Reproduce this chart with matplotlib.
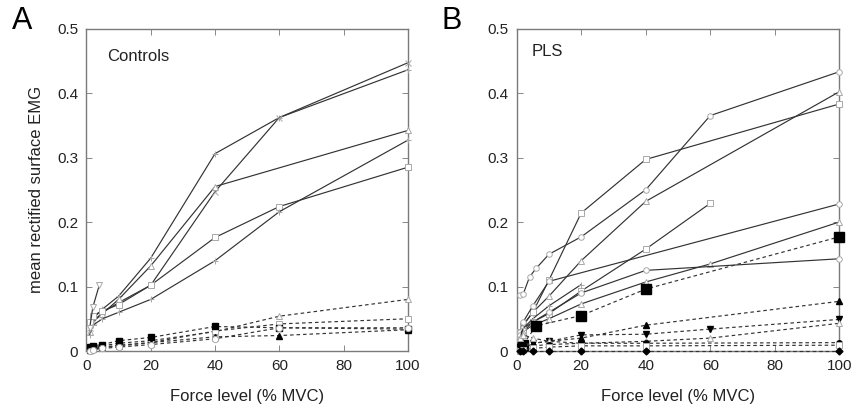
import matplotlib
matplotlib.use("Agg")
import matplotlib.pyplot as plt

plt.rcParams['font.family'] = ['Liberation Sans', 'DejaVu Sans']

# ---- Panel A: controls (solid = one muscle, dashed = the other) ----
ctrl_x = [1, 2, 5, 10, 20, 40, 60, 100]
ctrl_x_no60 = [1, 2, 5, 10, 20, 40, 100]
ctrl_x_short = [1, 2, 4]

ctrl_solid_1 = [0.040, 0.050, 0.065, 0.085, 0.144, 0.306, 0.362, 0.436]
ctrl_solid_2 = [0.035, 0.045, 0.060, 0.075, 0.102, 0.247, 0.362, 0.447]
ctrl_solid_3 = [0.030, 0.045, 0.058, 0.080, 0.132, 0.255, 0.342]
ctrl_solid_4 = [0.045, 0.055, 0.062, 0.072, 0.102, 0.176, 0.224, 0.285]
ctrl_solid_5 = [0.025, 0.040, 0.050, 0.060, 0.080, 0.140, 0.216, 0.327]
ctrl_solid_6 = [0.035, 0.068, 0.102]

ctrl_dash_1 = [0.004, 0.005, 0.008, 0.012, 0.016, 0.030, 0.054, 0.080]
ctrl_dash_2 = [0.002, 0.003, 0.005, 0.008, 0.013, 0.031, 0.042, 0.050]
ctrl_dash_3 = [0.006, 0.008, 0.010, 0.016, 0.021, 0.038, 0.036, 0.034]
ctrl_dash_4 = [0.002, 0.004, 0.006, 0.009, 0.013, 0.022, 0.024, 0.033]
ctrl_dash_5 = [0.000, 0.002, 0.004, 0.006, 0.010, 0.019, 0.036, 0.036]

# ---- Panel B: PLS ----
pls_x_b1 = [1, 2, 4, 6, 10, 20, 40, 60, 100]
pls_x = [1, 2, 5, 10, 20, 40, 60, 100]
pls_x_no60 = [1, 2, 5, 10, 20, 40, 100]
pls_x_to60 = [1, 2, 5, 10, 20, 40, 60]
pls_x_to20 = [1, 2, 5, 10, 20]
pls_x_pb5 = [1, 2, 5, 10, 100]
pls_x_pb8 = [2, 6, 20, 40, 100]

pls_solid_1 = [0.087, 0.088, 0.115, 0.128, 0.150, 0.177, 0.250, 0.365, 0.433]
pls_solid_2 = [0.030, 0.040, 0.060, 0.085, 0.140, 0.232, 0.402]
pls_solid_3 = [0.030, 0.040, 0.060, 0.110, 0.214, 0.297, 0.383]
pls_solid_4 = [0.020, 0.030, 0.045, 0.058, 0.093, 0.158, 0.229]
pls_solid_5 = [0.030, 0.045, 0.070, 0.108, 0.228]
pls_solid_6 = [0.020, 0.030, 0.040, 0.050, 0.073, 0.107, 0.135, 0.200]
pls_solid_7 = [0.025, 0.035, 0.045, 0.060, 0.090, 0.125, 0.143]
pls_solid_8 = [0.020, 0.035, 0.050, 0.070, 0.103]

pls_dash_1 = [0.010, 0.039, 0.055, 0.096, 0.177]
pls_dash_2 = [0.005, 0.008, 0.012, 0.015, 0.020, 0.040, 0.077]
pls_dash_3 = [0.006, 0.010, 0.012, 0.015, 0.025, 0.026, 0.034, 0.049]
pls_dash_4 = [0.020, 0.025, 0.020, 0.015, 0.012, 0.015, 0.020, 0.043]
pls_dash_5 = [0.010, 0.010, 0.008, 0.010, 0.012, 0.012, 0.013]
pls_dash_6 = [0.000, 0.002, 0.004, 0.006, 0.008, 0.008, 0.009]
pls_dash_7 = [0.000, 0.000, 0.000, 0.000, 0.000, 0.000, 0.000]

x_ticks = [0, 20, 40, 60, 80, 100]
y_ticks = [0, 0.1, 0.2, 0.3, 0.4, 0.5]
y_tick_labels = ['0', '0.1', '0.2', '0.3', '0.4', '0.5']

LINE = '#333333'
EDGE = '#a8a8a8'


def draw_solid(ax, x, y, marker):
    ax.plot(x, y, '-', color=LINE, lw=0.85, marker=marker, ms=4,
            mfc='white', mec=EDGE, mew=0.7, clip_on=False, zorder=3)


def draw_dashed(ax, x, y, marker, filled=False, ms=4.5):
    if filled:
        ax.plot(x, y, '--', color=LINE, lw=0.85, dashes=(3, 2.5), marker=marker,
                ms=ms, mfc='black', mec='black', clip_on=False, zorder=3)
    else:
        ax.plot(x, y, '--', color=LINE, lw=0.85, dashes=(3, 2.5), marker=marker,
                ms=ms, mfc='white', mec=EDGE, mew=0.7, clip_on=False, zorder=3)


def style_axes(ax):
    ax.set_xlim(0, 100)
    ax.set_ylim(0, 0.5)
    ax.set_xticks(x_ticks)
    ax.set_yticks(y_ticks)
    ax.set_yticklabels(y_tick_labels)
    ax.tick_params(direction='in', top=True, right=True, length=4,
                   width=0.7, color='#888888', labelsize=11, labelcolor='#222222')
    ax.tick_params(axis='y', pad=6)
    ax.tick_params(axis='x', pad=6)
    for sp in ax.spines.values():
        sp.set_color('#7a7a7a')
        sp.set_linewidth(1.0)
    ax.set_xlabel('Force level (% MVC)', fontsize=12, labelpad=11, color='#222222')


fig = plt.figure(figsize=(8.58, 4.15), dpi=100)
axA = fig.add_axes([0.1007, 0.1542, 0.3748, 0.7771])
axB = fig.add_axes([0.6022, 0.1542, 0.3760, 0.7771])

# Panel A
draw_solid(axA, ctrl_x, ctrl_solid_1, '+')
draw_solid(axA, ctrl_x, ctrl_solid_2, 'x')
draw_solid(axA, ctrl_x_no60, ctrl_solid_3, '^')
draw_solid(axA, ctrl_x, ctrl_solid_4, 's')
draw_solid(axA, ctrl_x, ctrl_solid_5, '+')
draw_solid(axA, ctrl_x_short, ctrl_solid_6, 'v')
draw_dashed(axA, ctrl_x, ctrl_dash_1, '^')
draw_dashed(axA, ctrl_x, ctrl_dash_2, 's')
draw_dashed(axA, ctrl_x, ctrl_dash_3, 's', filled=True)
draw_dashed(axA, ctrl_x, ctrl_dash_4, '^', filled=True)
draw_dashed(axA, ctrl_x, ctrl_dash_5, 'o')
style_axes(axA)
axA.set_ylabel('mean rectified surface EMG', fontsize=12, labelpad=9, color='#222222')
axA.text(0.063, 0.913, 'Controls', transform=axA.transAxes, fontsize=12,
         va='center', ha='left', color='#222222')

# Panel B
draw_solid(axB, pls_x_b1, pls_solid_1, 'o')
draw_solid(axB, pls_x_no60, pls_solid_2, '^')
draw_solid(axB, pls_x_no60, pls_solid_3, 's')
draw_solid(axB, pls_x_to60, pls_solid_4, 's')
draw_solid(axB, pls_x_pb5, pls_solid_5, 'o')
draw_solid(axB, pls_x, pls_solid_6, '^')
draw_solid(axB, pls_x_no60, pls_solid_7, 'o')
draw_solid(axB, pls_x_to20, pls_solid_8, '+')
draw_dashed(axB, pls_x_pb8, pls_dash_1, 's', filled=True, ms=7)
draw_dashed(axB, pls_x_no60, pls_dash_2, '^', filled=True)
draw_dashed(axB, pls_x, pls_dash_3, 'v', filled=True)
draw_dashed(axB, pls_x, pls_dash_4, '^')
draw_dashed(axB, pls_x_no60, pls_dash_5, 'o', filled=True, ms=4)
draw_dashed(axB, pls_x_no60, pls_dash_6, 's')
draw_dashed(axB, pls_x_no60, pls_dash_7, 'D', filled=True, ms=3.5)
style_axes(axB)
axB.text(0.046, 0.928, 'PLS', transform=axB.transAxes, fontsize=12,
         va='center', ha='left', color='#222222')

# panel letters
fig.text(12 / 858, 1 - 21 / 415, 'A', fontsize=22, va='center', ha='left')
fig.text(442 / 858, 1 - 21 / 415, 'B', fontsize=22, va='center', ha='left')

fig.savefig('out.png', dpi=100)
